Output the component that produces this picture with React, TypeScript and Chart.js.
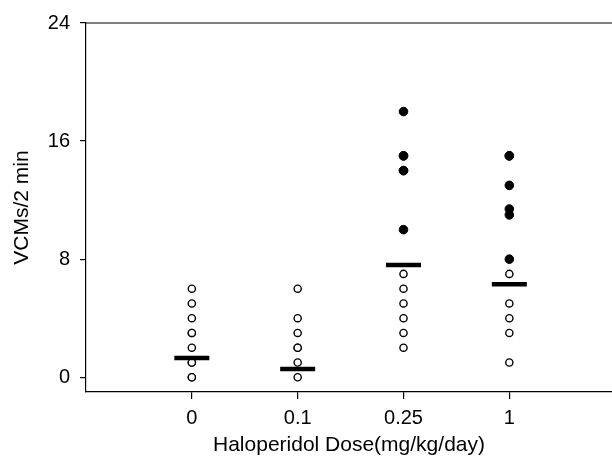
import React, { useEffect, useRef } from "react";
import { Chart, registerables } from "chart.js";

Chart.register(...registerables);

// Categories (dose groups) and tick labels
const doseLabels = ["0", "0.1", "0.25", "1"];
const yTickValues = [0, 8, 16, 24];

// Open circles: individual animals (value per group index)
const openGroup0 = [0, 0, 1, 1, 2, 3, 3, 4, 5, 6];
const openGroup1 = [0, 1, 2, 2, 3, 4, 6];
const openGroup2 = [2, 3, 4, 5, 6, 7];
const openGroup3 = [1, 3, 4, 5, 7];

// Filled circles
const filledGroup2 = [10, 14, 14, 15, 15, 18];
const filledGroup3 = [8, 11, 11.4, 13, 15, 15];

// Group means (horizontal bars)
const groupMeans = [1.3, 0.55, 7.6, 6.3];

const openGroups = [openGroup0, openGroup1, openGroup2, openGroup3];
const filledGroups: number[][] = [[], [], filledGroup2, filledGroup3];

const FONT = "'Liberation Sans', Arial, Helvetica, sans-serif";

export default function App() {
  const canvasRef = useRef<HTMLCanvasElement | null>(null);

  useEffect(() => {
    const canvas = canvasRef.current;
    if (!canvas) return;

    const openPts: { x: number; y: number }[] = [];
    openGroups.forEach((g, i) => g.forEach((v) => openPts.push({ x: i, y: v })));
    const filledPts: { x: number; y: number }[] = [];
    filledGroups.forEach((g, i) => g.forEach((v) => filledPts.push({ x: i, y: v })));
    const meanPts = groupMeans.map((v, i) => ({ x: i, y: v }));

    const topBorder = {
      id: "topBorder",
      afterDraw(chart: any) {
        const { ctx, chartArea } = chart;
        ctx.save();
        ctx.strokeStyle = "#000";
        ctx.lineWidth = 1.2;
        ctx.beginPath();
        ctx.moveTo(chartArea.left, chartArea.top);
        ctx.lineTo(chartArea.right, chartArea.top);
        ctx.stroke();
        ctx.restore();
      },
    };

    const chart = new Chart(canvas, {
      type: "scatter",
      data: {
        datasets: [
          {
            label: "Mean",
            data: meanPts,
            pointStyle: "line",
            pointRadius: 17.5,
            pointHoverRadius: 17.5,
            borderColor: "#000",
            backgroundColor: "#000",
            pointBorderWidth: 4.5,
            borderWidth: 4.5,
          },
          {
            label: "Filled",
            data: filledPts,
            pointStyle: "circle",
            pointRadius: 4.3,
            pointBorderWidth: 1,
            borderColor: "#000",
            backgroundColor: "#000",
          },
          {
            label: "Open",
            data: openPts,
            pointStyle: "circle",
            pointRadius: 3.6,
            pointBorderWidth: 1.4,
            borderColor: "#000",
            backgroundColor: "#fff",
          },
        ],
      },
      options: {
        animation: false,
        responsive: false,
        events: [],
        layout: { autoPadding: false, padding: { top: 23, right: 0, left: 0, bottom: 0 } },
        plugins: {
          legend: { display: false },
          tooltip: { enabled: false },
          title: { display: false },
        },
        scales: {
          x: {
            type: "linear",
            min: -1,
            max: 3.97,
            afterBuildTicks: (scale: any) => {
              scale.ticks = doseLabels.map((_, i) => ({ value: i }));
            },
            afterFit: (scale: any) => {
              scale.height = 73;
            },
            ticks: {
              callback: (v: any) => doseLabels[Number(v)] ?? "",
              color: "#000",
              font: { family: FONT, size: 20 },
              padding: 7,
              maxRotation: 0,
              autoSkip: false,
            },
            grid: {
              drawOnChartArea: false,
              drawTicks: true,
              tickLength: 7,
              color: "#000",
              lineWidth: 1.2,
            },
            border: { display: true, color: "#000", width: 1.2 },
            title: {
              display: true,
              text: "Haloperidol Dose(mg/kg/day)",
              color: "#000",
              font: { family: FONT, size: 21 },
              padding: { top: 0, bottom: 7 },
            },
          },
          y: {
            type: "linear",
            min: -1,
            max: 24,
            afterBuildTicks: (scale: any) => {
              scale.ticks = yTickValues.map((v) => ({ value: v }));
            },
            afterFit: (scale: any) => {
              scale.width = 86;
            },
            ticks: {
              color: "#000",
              font: { family: FONT, size: 20 },
              padding: 10,
            },
            grid: {
              drawOnChartArea: false,
              drawTicks: true,
              tickLength: 6,
              color: "#000",
              lineWidth: 1.2,
            },
            border: { display: true, color: "#000", width: 1.2 },
            title: {
              display: true,
              text: "VCMs/2 min",
              color: "#000",
              font: { family: FONT, size: 21 },
              padding: { top: 10, bottom: 0 },
            },
          },
        },
      },
      plugins: [topBorder],
    } as any);

    return () => chart.destroy();
  }, []);

  return (
    <div
      style={{
        position: "fixed",
        left: 0,
        top: 0,
        width: 612,
        height: 465,
        background: "#fff",
      }}
    >
      <canvas ref={canvasRef} width={612} height={465} style={{ display: "block" }} />
    </div>
  );
}
